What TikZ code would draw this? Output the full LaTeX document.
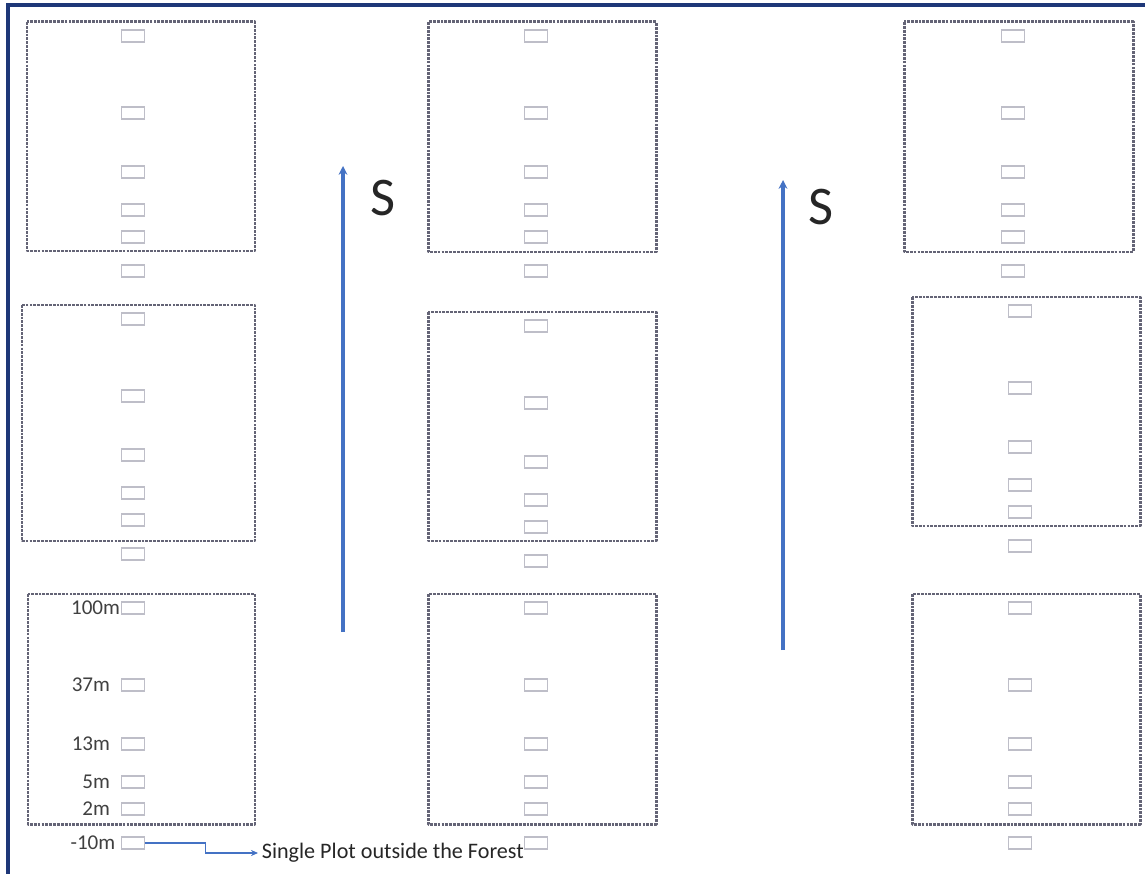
\documentclass[tikz,border=0pt]{standalone}
\usepackage{fontspec}
\setmainfont{Carlito}
\usepackage{tikz}
\usetikzlibrary{positioning,arrows.meta,calc}
\definecolor{framenavy}{RGB}{30,55,120}
\definecolor{plotgray}{RGB}{100,100,118}
\definecolor{quadgray}{RGB}{190,190,200}
\definecolor{arrowblue}{RGB}{68,114,196}
\tikzset{
  >=Stealth,
  plotbox/.style={draw=plotgray, line width=1.7pt, dash pattern=on 1.6pt off 0.6pt, line join=round},
  quadrat/.style={draw=quadgray, line width=0.7pt, minimum width=0.46cm, minimum height=0.24cm, inner sep=0pt},
  dist/.style={font=\fontsize{12}{14}\selectfont, text=black!75, inner sep=0pt},
  north/.style={draw=arrowblue, line width=2.1pt, -{Stealth[length=5pt,width=5pt]}},
  compass/.style={font=\fontsize{31}{33}\selectfont, text=black!85},
  link/.style={draw=arrowblue, line width=0.6pt, -{Stealth[length=4pt,width=3.5pt]}},
  note/.style={font=\fontsize{12.6}{14}\selectfont, text=black!85, inner sep=2pt},
}

\begin{document}
\begin{tikzpicture}[x=0.02cm, y=-0.02cm]
\useasboundingbox (0,0) rectangle (1145,874);

% frame of the screenshot
\draw[framenavy, line width=2pt] (8,874) -- (8,5) -- (1145,5);

% forest plots
\foreach \l/\t/\r/\b in {27/22/255/251, 22/305/255/541, 28/594/255/824,
  428/22/656/252, 428/312/656/541, 428/594/656/824,
  904/22/1133/252, 912/297/1140/526, 912/594/1140/824}
  \draw[plotbox] (\l,\t) rectangle (\r,\b);

% quadrats along each transect
\foreach \n/\qx/\top in {a1/133/22, a2/133/305, a3/133/594,
  b1/536/22, b2/536/312, b3/536/594,
  c1/1013/22, c2/1020/297, c3/1020/594}
  \foreach \d [count=\k] in {14,91,150,188,215,249}
    \node[quadrat] (q\n\k) at (\qx,\top+\d) {};

% distances
\node[dist, left=0.3pt of qa31] (d100) {100m};
\node[dist, left=6pt of qa32] (d37) {37m};
\node[dist, left=6pt of qa33] (d13) {13m};
\node[dist, left=6pt of qa34] (d5) {5m};
\node[dist, left=6pt of qa35] (d2) {2m};
\node[dist, left=3pt of qa36] (dm10) {-10m};

% slope direction
\coordinate (s1a) at (343,632);
\coordinate (s1b) at (343,166);
\draw[north] (s1a) -- (s1b);
\node[compass] (s1) at (383,198) {S};

\coordinate (s2a) at (783,650);
\coordinate (s2b) at (783,180);
\draw[north] (s2a) -- (s2b);
\node[compass] (s2) at (821,207) {S};

% single plot
\node[note, anchor=west] (out) at (258,853) {Single Plot outside the Forest};
\draw[link] (qa36.east) -- ++(60,0) |- (out.west);
\end{tikzpicture}
\end{document}
